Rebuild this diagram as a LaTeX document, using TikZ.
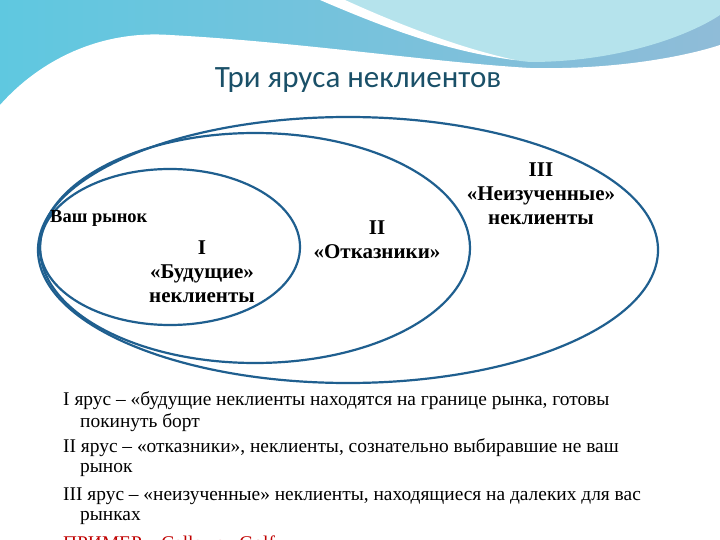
\documentclass[tikz,border=0pt]{standalone}
\usepackage{fontspec}
\setmainfont{Liberation Serif}
\newfontfamily\titlefont{Carlito}
\begin{document}
\begin{tikzpicture}[x=1pt,y=-1pt,
  ell/.style={draw=ellblue,line width=2.2pt},
  lab/.style={font=\fontsize{21}{24}\selectfont\bfseries,align=center,inner sep=0pt},
  body/.style={font=\fontsize{19.4}{21}\selectfont,anchor=west,inner sep=0pt}]
\definecolor{ellblue}{HTML}{1F5F8F}
\definecolor{bandA}{HTML}{5FC8E0}
\definecolor{bandB}{HTML}{8FBCD8}
\definecolor{lightc}{HTML}{B5E3EC}
\definecolor{titlec}{HTML}{1A5068}
\definecolor{redc}{HTML}{C00000}
\useasboundingbox (0,0) rectangle (720,540);
\fill[white] (0,0) rectangle (720,540);
% top band
\shade[left color=bandA,right color=bandB] (0,0) rectangle (720,110);
\fill[white] (0,105) .. controls (40,60) and (100,30) .. (170,35)
  .. controls (300,42) and (430,62) .. (530,68)
  .. controls (620,70) and (690,55) .. (720,45) -- (720,110) -- (0,110) -- cycle;
\fill[white] (0,105) rectangle (720,540);
\fill[lightc] (330,0) .. controls (400,30) and (460,55) .. (530,62)
  .. controls (620,62) and (690,35) .. (720,15) -- (720,0) -- cycle;
\fill[white] (320,0) .. controls (390,30) and (450,52) .. (515,60)
  .. controls (460,48) and (400,25) .. (345,0) -- cycle;
\node[font=\titlefont\fontsize{31}{34}\selectfont,text=titlec] (title) at (358,80) {Три яруса неклиентов};
% ellipses
\draw[ell] (348,250) ellipse [x radius=310,y radius=133];
\draw[ell] (255,248) ellipse [x radius=215,y radius=115];
\draw[ell] (170,247) ellipse [x radius=130,y radius=78];
\node[lab,font=\fontsize{18.5}{20}\selectfont\bfseries,anchor=west] (vr) at (50,218) {Ваш рынок};
\node[lab] (t1) at (202,272) {I\\«Будущие»\\неклиенты};
\node[lab] (t2) at (377,240) {II\\«Отказники»};
\node[lab] (t3) at (541,194) {III\\«Неизученные»\\неклиенты};
% text
\node[body] (l1) at (63,401) {I ярус – «будущие неклиенты находятся на границе рынка, готовы};
\node[body] (l1b) at (80,423) {покинуть борт};
\node[body] (l2) at (63,448) {II ярус – «отказники», неклиенты, сознательно выбиравшие не ваш};
\node[body] (l2b) at (80,470) {рынок};
\node[body] (l3) at (63,496) {III ярус – «неизученные» неклиенты, находящиеся на далеких для вас};
\node[body] (l3b) at (80,518) {рынках};
\begin{scope}
\clip (0,0) rectangle (720,540);
\node[body,text=redc] (ex) at (63,545) {ПРИМЕР – Callaway Golf};
\end{scope}
\end{tikzpicture}
\end{document}
